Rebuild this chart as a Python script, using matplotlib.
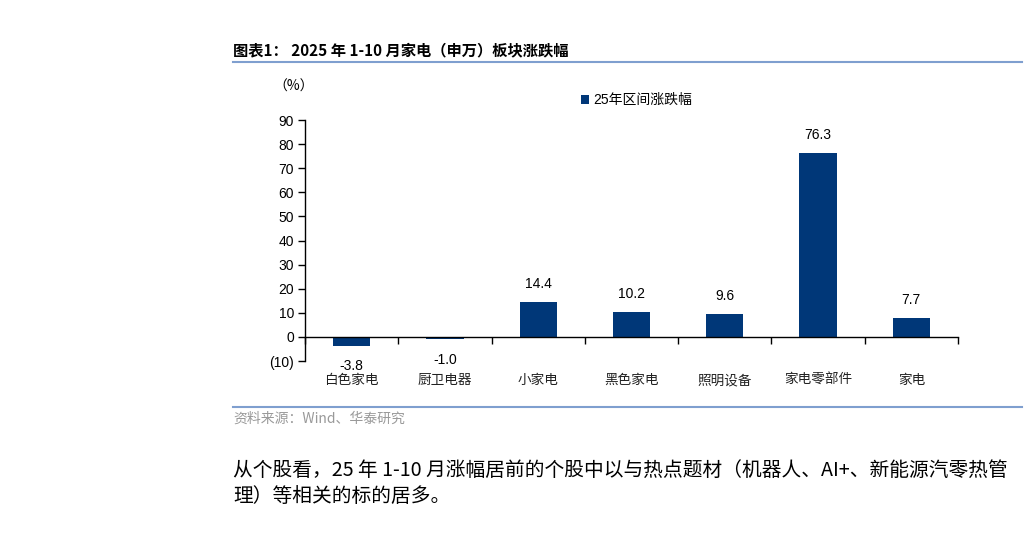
import matplotlib.pyplot as plt
import numpy as np
from matplotlib.ticker import FixedLocator, FuncFormatter
from matplotlib.transforms import blended_transform_factory

plt.rcParams['font.family'] = ['Liberation Sans', 'Noto Sans CJK SC']

# data
categories = ['白色家电', '厨卫电器', '小家电', '黑色家电', '照明设备', '家电零部件', '家电']
changes = [-3.8, -1.0, 14.4, 10.2, 9.6, 76.3, 7.7]
series_name = '25年区间涨跌幅'
yticks = [-10, 0, 10, 20, 30, 40, 50, 60, 70, 80, 90]

bar_color = '#003778'
rule_color = '#7f9fcf'

fig = plt.figure(figsize=(10.28, 5.52), dpi=100)
ax = fig.add_axes([305/1028, 1-361/552, 653/1028, 241/552])

x = np.arange(len(categories))
bars = ax.bar(x, changes, width=0.4, color=bar_color, label=series_name, zorder=2)

ax.set_xlim(-0.5, len(categories) - 0.5)
ax.set_ylim(-10, 90)
ax.set_yticks(yticks)
ax.yaxis.set_major_formatter(FuncFormatter(lambda v, p: '(%d)' % abs(v) if v < 0 else '%d' % v))
ax.tick_params(axis='y', direction='out', length=5, width=1, labelsize=10, pad=3)

# x axis sits on the zero line, ticks between categories
ax.spines['bottom'].set_position(('data', 0))
ax.spines['top'].set_visible(False)
ax.spines['right'].set_visible(False)
for s in ['left', 'bottom']:
    ax.spines[s].set_linewidth(1)
ax.xaxis.set_major_locator(FixedLocator(x))
ax.xaxis.set_minor_locator(FixedLocator(np.arange(len(categories) + 1) - 0.5))
ax.tick_params(axis='x', which='major', length=0, labelbottom=False)
ax.tick_params(axis='x', which='minor', direction='out', length=5, width=1)

trans = blended_transform_factory(ax.transData, ax.transAxes)
for xi, name in zip(x, categories):
    ax.text(xi, -0.08, name, transform=trans, ha='center', va='center',
            fontsize=9.8, family=['Noto Sans CJK SC'], color='#222222')

for b, v in zip(bars, changes):
    if v >= 0:
        ax.annotate('%.1f' % v, (b.get_x() + b.get_width()/2, v), xytext=(0, 8),
                    textcoords='offset points', ha='center', va='bottom', fontsize=10)
    else:
        ax.annotate('%.1f' % v, (b.get_x() + b.get_width()/2, v), xytext=(0, -9.5),
                    textcoords='offset points', ha='center', va='top', fontsize=10)

ax.legend(loc='center left', bbox_to_anchor=(568/1028, 1-100/552), bbox_transform=fig.transFigure,
          frameon=False, handlelength=0.6, handleheight=0.6, handletextpad=0.3,
          prop={'family': ['Liberation Sans', 'Noto Sans CJK SC'], 'size': 10})

fig.text(273/1028, 1-87/552, '（%）', ha='left', va='center', fontsize=10,
         family=['Noto Sans CJK SC'])

# page decorations
fig.text(233/1028, 1-50/552, '图表1： 2025 年 1-10 月家电（申万）板块涨跌幅', ha='left', va='center',
         fontsize=11, fontweight='bold', family=['Noto Sans CJK SC'])
fig.add_artist(plt.Line2D([233/1028, 1022/1028], [1-62/552, 1-62/552], color=rule_color, lw=1.5))
fig.add_artist(plt.Line2D([233/1028, 1022/1028], [1-407/552, 1-407/552], color=rule_color, lw=1.5))
fig.text(233/1028, 1-419/552, '资料来源：Wind、华泰研究', ha='left', va='center',
         fontsize=10, color='#999999', family=['Noto Sans CJK SC'])

fig.text(233/1028, 1-470/552, '从个股看，25 年 1-10 月涨幅居前的个股中以与热点题材（机器人、AI+、新能源汽零热管',
         ha='left', va='center', fontsize=14.2, family=['Noto Sans CJK SC'])
fig.text(233/1028, 1-497/552, '理）等相关的标的居多。', ha='left', va='center', fontsize=14.2,
         family=['Noto Sans CJK SC'])

fig.savefig('out.png', dpi=100)
